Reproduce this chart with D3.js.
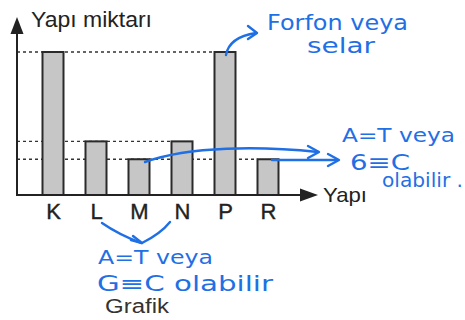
<!DOCTYPE html>
<html>
<head>
<meta charset="utf-8">
<script src="https://cdn.jsdelivr.net/npm/d3@7"></script>
<style>
  html, body { margin: 0; padding: 0; background: #fff; }
  svg { display: block; }
</style>
</head>
<body>
<svg id="chart" width="465" height="320"></svg>
<script>
// Structure types and their amounts
const categories = ["K", "L", "M", "N", "P", "R"];
const values = [4, 1.5, 1, 1.5, 4, 1];
const yLabel = "Yapı miktarı";
const xLabel = "Yapı";
const caption = "Grafik";

const ink = "#222";
const pen = "#1f6fe5";
const font = "Liberation Sans, Arial, sans-serif";

const svg = d3.select("#chart");

const origin = { x: 17, y: 195 };
const x = d3.scalePoint().domain(categories).range([53, 268]);
const y = d3.scaleLinear().domain([0, 4]).range([origin.y, 52]);
const barW = 21;

const data = categories.map((c, i) => ({ c, v: values[i] }));

// dashed guide lines: from the y axis to the farthest bar of each level
const levels = Array.from(new Set(values));
const guides = levels.map(v => {
  const last = data.filter(d => d.v === v).pop();
  return { v, x2: x(last.c) - barW / 2 };
});
svg.selectAll("line.guide").data(guides).join("line")
  .attr("class", "guide")
  .attr("x1", origin.x).attr("x2", d => d.x2)
  .attr("y1", d => y(d.v)).attr("y2", d => y(d.v))
  .attr("stroke", "#333").attr("stroke-width", 1.3)
  .attr("stroke-dasharray", "3,3");

// bars
svg.selectAll("rect.bar").data(data).join("rect")
  .attr("class", "bar")
  .attr("x", d => x(d.c) - barW / 2)
  .attr("y", d => y(d.v))
  .attr("width", barW)
  .attr("height", d => y(0) - y(d.v))
  .attr("fill", "#c6c6c6")
  .attr("stroke", "#2a2a2a")
  .attr("stroke-width", 2);

// axes with arrowheads
svg.append("line")
  .attr("x1", origin.x).attr("y1", origin.y + 1)
  .attr("x2", origin.x).attr("y2", 30)
  .attr("stroke", ink).attr("stroke-width", 2);
svg.append("path")
  .attr("d", `M${origin.x},17 L${origin.x - 6.5},34 L${origin.x + 6.5},34 Z`)
  .attr("fill", ink);
svg.append("line")
  .attr("x1", origin.x - 1).attr("y1", origin.y)
  .attr("x2", 305).attr("y2", origin.y)
  .attr("stroke", ink).attr("stroke-width", 2);
svg.append("path")
  .attr("d", `M318,${origin.y} L300,${origin.y - 6.5} L300,${origin.y + 6.5} Z`)
  .attr("fill", ink);

// category labels
const xAxis = svg.append("g")
  .attr("transform", `translate(0,${origin.y})`)
  .call(d3.axisBottom(x).tickSize(0).tickPadding(8));
xAxis.select(".domain").remove();
xAxis.selectAll("text")
  .attr("font-family", font)
  .attr("font-size", 22)
  .attr("stroke", ink).attr("stroke-width", 0.4)
  .attr("fill", ink);

svg.append("text")
  .attr("x", 31).attr("y", 27)
  .attr("font-family", font)
  .attr("font-size", 22).attr("fill", ink)
  .attr("textLength", 121).attr("lengthAdjust", "spacingAndGlyphs")
  .text(yLabel);
svg.append("text")
  .attr("x", 323).attr("y", 202)
  .attr("font-family", font)
  .attr("font-size", 21).attr("fill", ink)
  .attr("textLength", 44).attr("lengthAdjust", "spacingAndGlyphs")
  .text(xLabel);
svg.append("text")
  .attr("x", 105).attr("y", 313)
  .attr("font-family", font)
  .attr("font-size", 20).attr("fill", "#333")
  .attr("textLength", 64).attr("lengthAdjust", "spacingAndGlyphs")
  .text(caption);

// handwritten notes in blue pen
const notes = [
  { t: "Forfon veya", x: 267, y: 30, w: 141, s: 21 },
  { t: "selar", x: 307, y: 53, w: 68, s: 21 },
  { t: "A=T veya", x: 342, y: 142, w: 113, s: 20 },
  { t: "6≡C", x: 350, y: 170, w: 60, s: 22 },
  { t: "olabilir .", x: 382, y: 187, w: 81, s: 19 },
  { t: "A=T veya", x: 98, y: 264, w: 115, s: 20 },
  { t: "G≡C olabilir", x: 97, y: 291, w: 176, s: 21 }
];
svg.selectAll("text.note").data(notes).join("text")
  .attr("class", "note")
  .attr("x", d => d.x).attr("y", d => d.y)
  .attr("font-family", "DejaVu Sans, sans-serif")
  .attr("font-size", d => d.s)
  .attr("textLength", d => d.w)
  .attr("lengthAdjust", "spacingAndGlyphs")
  .attr("fill", pen)
  .text(d => d.t);

const strokes = [
  "M226,55 C228,44 236,36 256,33",
  "M248,26 L257,33 L248,39",
  "M145,162 C190,146 260,146 318,152",
  "M308,146 L319,152 L308,158",
  "M272,160 L337,160",
  "M328,154 L339,160 L328,166",
  "M102,223 C115,232 128,238 141,243",
  "M170,222 C162,232 152,238 142,243",
  "M131,240 L142,243 L133,236"
];
svg.selectAll("path.pen").data(strokes).join("path")
  .attr("class", "pen")
  .attr("d", d => d)
  .attr("fill", "none")
  .attr("stroke", pen)
  .attr("stroke-width", 2.4)
  .attr("stroke-linecap", "round")
  .attr("stroke-linejoin", "round");
</script>
</body>
</html>
